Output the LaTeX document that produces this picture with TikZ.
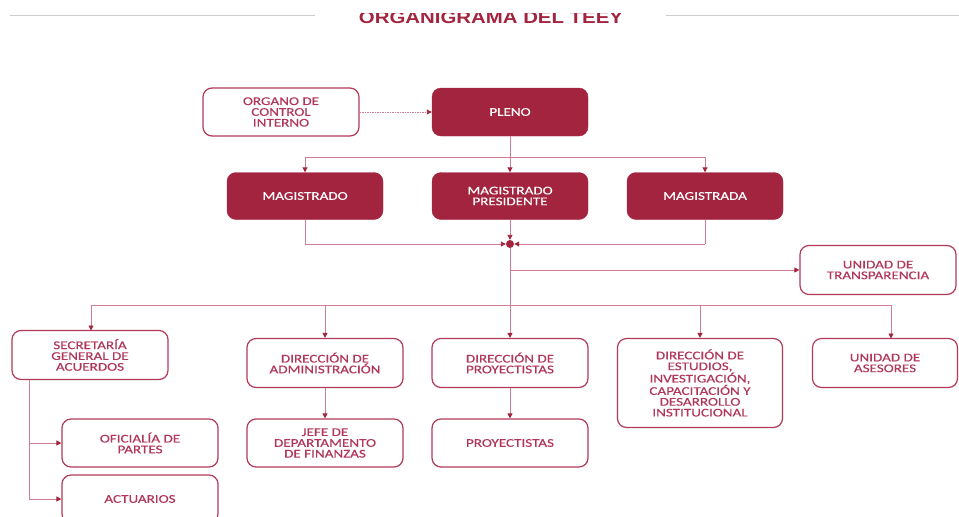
\documentclass[tikz,border=0pt]{standalone}
\usepackage{fontspec}
\setmainfont[FakeStretch=1.28,FakeBold=0.35]{Carlito}
\newfontfamily\titlefont[FakeStretch=1.2]{Liberation Sans}
\usetikzlibrary{arrows.meta}
\definecolor{fillred}{HTML}{A3243F}
\definecolor{linered}{HTML}{B23A58}
\definecolor{txtred}{HTML}{B0375A}
\definecolor{conn}{HTML}{D27D94}
\definecolor{greyline}{HTML}{CCCCCC}
\begin{document}
\begin{tikzpicture}[x=1pt,y=-1pt,
  box/.style={rounded corners=9pt, minimum width=156pt, minimum height=48pt, inner sep=0pt, align=center, font=\fontsize{11.8}{10.8}\selectfont},
  wbox/.style={box, draw=linered, line width=1.2pt, fill=white, text=txtred},
  fbox/.style={box, fill=fillred, draw=fillred, text=white},
  link/.style={draw=conn, line width=0.9pt},
  arr/.style={link, -{Triangle[length=5pt,width=5pt,color=fillred]}}
]
\useasboundingbox (0,0) rectangle (959,517);
\clip (0,0) rectangle (959,517);

% title
\draw[greyline, line width=1pt] (10,15) -- (315,15);
\draw[greyline, line width=1pt] (666,15) -- (959,15);
\begin{scope}
\clip (300,13) rectangle (700,40);
\node[anchor=base, inner sep=0pt, text=fillred, font=\titlefont\bfseries\fontsize{17}{17}\selectfont] (title) at (491,23) {ORGANIGRAMA DEL TEEY};
\end{scope}

% nodes
\node[wbox] (organo) at (281,112) {ORGANO DE\\CONTROL\\INTERNO};
\node[fbox] (pleno) at (510,112) {PLENO};
\node[fbox, minimum height=47pt] (mag1) at (305,196) {MAGISTRADO};
\node[fbox, minimum height=47pt] (magp) at (510,196) {MAGISTRADO\\PRESIDENTE};
\node[fbox, minimum height=47pt] (mag2) at (705,196) {MAGISTRADA};
\node[wbox, minimum height=49pt] (transp) at (878,270) {UNIDAD DE\\TRANSPARENCIA};
\node[wbox, minimum height=49pt] (secre) at (90,355) {SECRETARÍA\\GENERAL DE\\ACUERDOS};
\node[wbox, minimum height=49pt] (admin) at (325,363) {DIRECCIÓN DE\\ADMINISTRACIÓN};
\node[wbox] (jefe) at (325,443) {JEFE DE\\DEPARTAMENTO\\DE FINANZAS};
\node[wbox, minimum height=49pt] (dproy) at (510,363) {DIRECCIÓN DE\\PROYECTISTAS};
\node[wbox] (proy) at (510,443) {PROYECTISTAS};
\node[wbox, minimum width=165pt, minimum height=89pt] (estud) at (700,383) {DIRECCIÓN DE\\ESTUDIOS,\\INVESTIGACIÓN,\\CAPACITACIÓN Y\\DESARROLLO\\INSTITUCIONAL};
\node[wbox, minimum width=145pt, minimum height=49pt] (aseso) at (885,363) {UNIDAD DE\\ASESORES};
\node[wbox] (ofic) at (140,443) {OFICIALÍA DE\\PARTES};
\node[wbox] (actu) at (140,499) {ACTUARIOS};

% helper coordinates
\coordinate (pj) at (510,157);
\coordinate (pl) at (305,157);
\coordinate (pr) at (705,157);
\coordinate (jl) at (305,244);
\coordinate (jr) at (705,244);
\coordinate (tj) at (510,270);
\coordinate (hb) at (510,305);
\coordinate (h1) at (91,305);
\coordinate (h2) at (325,305);
\coordinate (h4) at (700,305);
\coordinate (h5) at (891,305);
\coordinate (a5) at (891,338.5);
\coordinate (s0) at (29,379.5);
\coordinate (s1) at (29,443);
\coordinate (s2) at (29,499);
\coordinate (a1) at (91,330.5);

% connectors
\draw[link, dash pattern=on 1.5pt off 1pt, -{Triangle[length=5pt,width=5pt,color=fillred]}] (organo.east) -- (pleno.west);
\draw[link] (pleno.south) -- (pj);
\draw[link] (pl) -- (pr);
\draw[arr] (pl) -- (mag1.north);
\draw[arr] (pj) -- (magp.north);
\draw[arr] (pr) -- (mag2.north);

\node[circle, fill=fillred, inner sep=0pt, minimum size=8pt] (dot) at (510,244) {};
\draw[link] (mag1.south) -- (jl);
\draw[arr] (jl) -- (dot.west);
\draw[link] (mag2.south) -- (jr);
\draw[arr] (jr) -- (dot.east);
\draw[arr] (magp.south) -- (dot.north);

\draw[link] (dot.south) -- (hb);
\draw[arr] (tj) -- (transp.west);
\draw[link] (h1) -- (h5);
\draw[arr] (h1) -- (a1);
\draw[arr] (h2) -- (admin.north);
\draw[arr] (hb) -- (dproy.north);
\draw[arr] (h4) -- (estud.north);
\draw[arr] (h5) -- (a5);

\draw[link] (s0) -- (s2);
\draw[arr] (s1) -- (ofic.west);
\draw[arr] (s2) -- (actu.west);

\draw[arr] (admin.south) -- (jefe.north);
\draw[arr] (dproy.south) -- (proy.north);
\end{tikzpicture}
\end{document}
